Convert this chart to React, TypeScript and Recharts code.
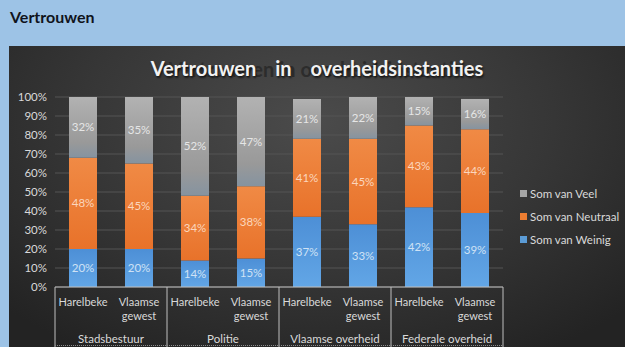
import { BarChart, Bar, XAxis, YAxis, CartesianGrid, LabelList } from "recharts";

const categories = [
  "Harelbeke",
  "Vlaamse gewest",
  "Harelbeke",
  "Vlaamse gewest",
  "Harelbeke",
  "Vlaamse gewest",
  "Harelbeke",
  "Vlaamse gewest",
];
const groups = ["Stadsbestuur", "Politie", "Vlaamse overheid", "Federale overheid"];
const weinig = [20, 20, 14, 15, 37, 33, 42, 39];
const neutraal = [48, 45, 34, 38, 41, 45, 43, 44];
const veel = [32, 35, 52, 47, 21, 22, 15, 16];
const yTicks = [0, 10, 20, 30, 40, 50, 60, 70, 80, 90, 100];

// category names repeat per group, so each row gets a unique key for the axis
const data = categories.map((name, i) => ({
  key: `${groups[Math.floor(i / 2)]} - ${name}`,
  name,
  group: groups[Math.floor(i / 2)],
  weinig: weinig[i],
  neutraal: neutraal[i],
  veel: veel[i],
}));

const FONT = "Lato, 'Open Sans', sans-serif";
const AXIS_TEXT = "#d9d9d9";
const LINE = "#bfbfbf";
const BAND = 56;
const AXIS_Y = 241;

function CategoryTick(props: any) {
  const { x, index } = props;
  const row = data[index];
  if (!row) return null;
  const words = row.name.split(" ");
  const isFirst = index % 2 === 0;
  return (
    <g>
      {words.map((w: string, k: number) => (
        <text
          key={k}
          x={x}
          y={AXIS_Y + 19 + k * 14}
          textAnchor="middle"
          fill={AXIS_TEXT}
          fontSize={11}
          fontFamily={FONT}
        >
          {w}
        </text>
      ))}
      {isFirst && (
        <>
          <line x1={x - BAND / 2} x2={x - BAND / 2} y1={AXIS_Y} y2={AXIS_Y + 60} stroke={LINE} strokeWidth={1} />
          <text
            x={x + BAND / 2}
            y={AXIS_Y + 56}
            textAnchor="middle"
            fill={AXIS_TEXT}
            fontSize={11.5}
            fontFamily={FONT}
          >
            {row.group}
          </text>
        </>
      )}
      {index === data.length - 1 && (
        <>
          <line x1={x + BAND / 2} x2={x + BAND / 2} y1={AXIS_Y} y2={AXIS_Y + 60} stroke={LINE} strokeWidth={1} />
          <line
            x1={x + BAND / 2 - BAND * 8}
            x2={x + BAND / 2}
            y1={AXIS_Y + 58.5}
            y2={AXIS_Y + 58.5}
            stroke="#8c8c8c"
            strokeDasharray="1 1"
          />
        </>
      )}
    </g>
  );
}

const legendItems = [
  { label: "Som van Veel", color: "#a5a5a5" },
  { label: "Som van Neutraal", color: "#ed7d31" },
  { label: "Som van Weinig", color: "#5b9bd5" },
];

const pct = (v: any) => `${v}%`;

export default function App() {
  return (
    <div
      style={{
        position: "fixed",
        left: 0,
        top: 0,
        width: 625,
        height: 347,
        background: "#9dc3e6",
        overflow: "hidden",
        fontFamily: FONT,
      }}
    >
      <div
        style={{
          position: "absolute",
          left: 10,
          top: 7,
          fontSize: 16,
          fontWeight: 700,
          color: "#10131c",
        }}
      >
        Vertrouwen
      </div>
      <div
        style={{
          position: "absolute",
          left: 9,
          top: 46,
          width: 616,
          height: 301,
          background: "radial-gradient(ellipse 70% 90% at 50% 25%, #4b4b4b 0%, #363636 55%, #232323 100%)",
        }}
      >
        {/* title shadow layer */}
        <div
          style={{
            position: "absolute",
            left: 0,
            width: 616,
            top: 11,
            textAlign: "center",
            fontSize: 20,
            fontWeight: 700,
            color: "#2c2c2c",
            paddingLeft: 4,
          }}
        >
          Vertrouwen in overheidsinstanties
        </div>
        <div
          style={{
            position: "absolute",
            left: 0,
            width: 616,
            top: 10,
            textAlign: "center",
            fontSize: 20,
            fontWeight: 700,
            color: "#f2f2f2",
            wordSpacing: 14,
            textShadow: "1px 2px 2px rgba(0,0,0,0.6)",
          }}
        >
          Vertrouwen in overheidsinstanties
        </div>
        <BarChart
          width={616}
          height={301}
          data={data}
          margin={{ top: 51, right: 122, bottom: 0, left: 0 }}
          barSize={28}
          style={{ position: "absolute", left: 0, top: 0 }}
        >
          <defs>
            <linearGradient id="gVeel" x1="0" y1="0" x2="0" y2="1">
              <stop offset="0%" stopColor="#b2b2b2" />
              <stop offset="75%" stopColor="#999999" />
              <stop offset="100%" stopColor="#8593a0" />
            </linearGradient>
            <linearGradient id="gNeutraal" x1="0" y1="0" x2="0" y2="1">
              <stop offset="0%" stopColor="#f08a45" />
              <stop offset="100%" stopColor="#e8722a" />
            </linearGradient>
            <linearGradient id="gWeinig" x1="0" y1="0" x2="0" y2="1">
              <stop offset="0%" stopColor="#4d8fd6" />
              <stop offset="100%" stopColor="#62a6e6" />
            </linearGradient>
          </defs>
          <CartesianGrid vertical={false} stroke="#545454" strokeWidth={1} />
          <XAxis
            dataKey="key"
            interval={0}
            height={60}
            tickLine={false}
            axisLine={{ stroke: LINE }}
            tick={<CategoryTick />}
          />
          <YAxis
            width={46}
            domain={[0, 100]}
            ticks={yTicks}
            interval={0}
            tickFormatter={pct}
            axisLine={false}
            tickLine={false}
            tick={{ fill: AXIS_TEXT, fontSize: 11.5, fontFamily: FONT }}
          />
          <Bar dataKey="weinig" stackId="a" fill="url(#gWeinig)" isAnimationActive={false}>
            <LabelList dataKey="weinig" position="center" formatter={pct} fill="#cfe2f5" fontSize={11.5} fontFamily={FONT} />
          </Bar>
          <Bar dataKey="neutraal" stackId="a" fill="url(#gNeutraal)" isAnimationActive={false}>
            <LabelList dataKey="neutraal" position="center" formatter={pct} fill="#fbd6bd" fontSize={11.5} fontFamily={FONT} />
          </Bar>
          <Bar dataKey="veel" stackId="a" fill="url(#gVeel)" isAnimationActive={false}>
            <LabelList dataKey="veel" position="center" formatter={pct} fill="#e6e6e6" fontSize={11.5} fontFamily={FONT} />
          </Bar>
        </BarChart>
        <div
          style={{
            position: "absolute",
            left: 511,
            top: 136,
            fontSize: 11.5,
            color: AXIS_TEXT,
          }}
        >
          {legendItems.map((it) => (
            <div key={it.label} style={{ display: "flex", alignItems: "center", height: 23 }}>
              <span style={{ width: 7, height: 7, background: it.color, marginRight: 3 }} />
              {it.label}
            </div>
          ))}
        </div>
      </div>
    </div>
  );
}
